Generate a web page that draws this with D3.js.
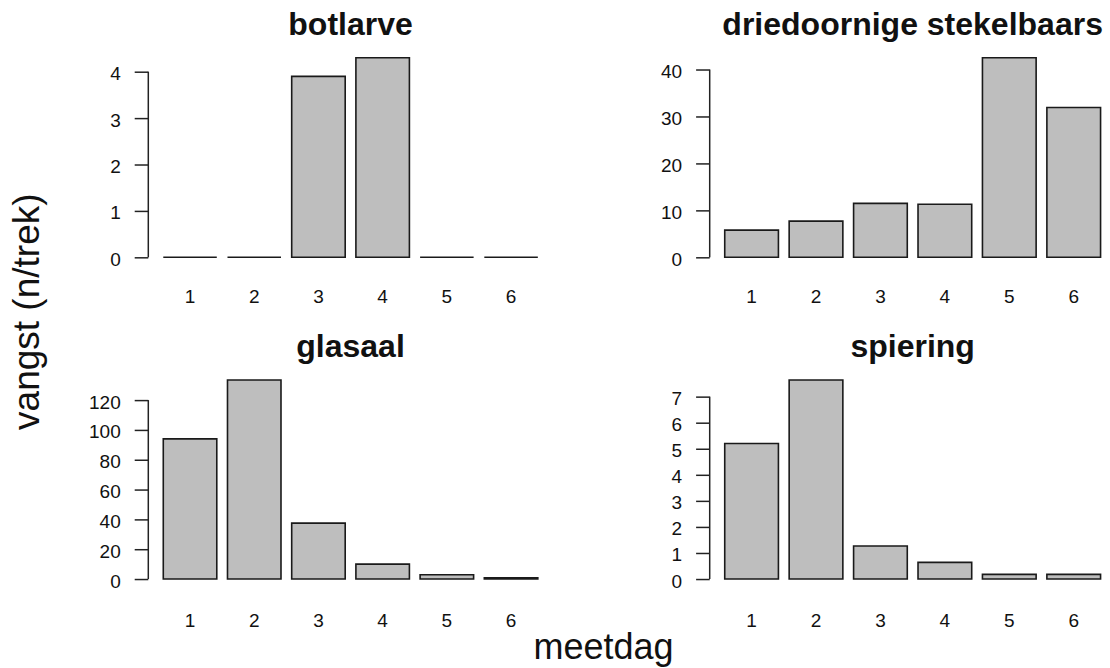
<!DOCTYPE html>
<html>
<head>
<meta charset="utf-8">
<script src="https://cdn.jsdelivr.net/npm/d3@7"></script>
<style>
  html, body { margin: 0; padding: 0; background: #fff; }
  svg { display: block; }
  text { font-family: "Liberation Sans", Arial, sans-serif; fill: #111; }
</style>
</head>
<body>
<svg id="chart" width="1110" height="668"></svg>
<script>
// ---- data ----
const days = ["1", "2", "3", "4", "5", "6"];
const titles = ["botlarve", "driedoornige stekelbaars", "glasaal", "spiering"];
const botlarve = [0, 0, 3.9, 4.3, 0, 0];
const stekelbaars = [5.8, 7.7, 11.5, 11.3, 42.5, 31.9];
const glasaal = [94, 133.5, 37.5, 10, 2.9, 0.8];
const spiering = [5.2, 7.64, 1.27, 0.64, 0.18, 0.18];
const ticksBotlarve = [0, 1, 2, 3, 4];
const ticksStekelbaars = [0, 10, 20, 30, 40];
const ticksGlasaal = [0, 20, 40, 60, 80, 100, 120];
const ticksSpiering = [0, 1, 2, 3, 4, 5, 6, 7];
const xLabel = "meetdag";
const yLabel = "vangst (n/trek)";

// ---- layout ----
const colX = [[148.3, 552.8], [709.7, 1115.6]];
const rowY = [[265.3, 49.8], [587, 372]];
const titleBase = [35, 356.7];
const xLabBase = [303, 626.5];

const panels = [
  { title: titles[0], values: botlarve, ticks: ticksBotlarve, col: 0, row: 0 },
  { title: titles[1], values: stekelbaars, ticks: ticksStekelbaars, col: 1, row: 0 },
  { title: titles[2], values: glasaal, ticks: ticksGlasaal, col: 0, row: 1 },
  { title: titles[3], values: spiering, ticks: ticksSpiering, col: 1, row: 1 }
];

const svg = d3.select("#chart");
const barW = 1, space = 0.2;

panels.forEach(p => {
  const n = p.values.length;
  const xmax = n * (barW + space);
  const pad = 0.04 * (xmax - space);
  const x = d3.scaleLinear().domain([space - pad, xmax + pad]).range(colX[p.col]);
  const vmax = d3.max(p.values);
  const y = d3.scaleLinear().domain([-0.04 * vmax, 1.04 * vmax]).range(rowY[p.row]);
  const g = svg.append("g");

  // bars as closed paths so zero-height bars still show as a line
  g.selectAll("path.bar").data(p.values).join("path")
    .attr("class", "bar")
    .attr("d", (v, i) => {
      const l = x(space + i * (barW + space)), r = x(space + i * (barW + space) + barW);
      const b = y(0), t = y(v);
      return `M${l},${b}L${r},${b}L${r},${t}L${l},${t}Z`;
    })
    .attr("fill", "#bebebe")
    .attr("stroke", "#1a1a1a")
    .attr("stroke-width", 1.6);

  // y axis
  const ax0 = colX[p.col][0];
  const axis = d3.axisLeft(y).tickValues(p.ticks).tickFormat(d3.format("d"))
    .tickSize(13.6).tickPadding(14).tickSizeOuter(0);
  const ga = g.append("g").attr("transform", `translate(${ax0},0)`).call(axis);
  ga.select(".domain").remove();
  ga.append("line")
    .attr("x1", 0).attr("x2", 0)
    .attr("y1", y(p.ticks[0])).attr("y2", y(p.ticks[p.ticks.length - 1]))
    .attr("stroke", "#222").attr("stroke-width", 1.5);
  ga.selectAll(".tick line").attr("stroke", "#222").attr("stroke-width", 1.5);
  ga.selectAll(".tick text")
    .attr("font-family", "Liberation Sans, Arial, sans-serif")
    .attr("font-size", 19).attr("fill", "#111").attr("dy", "0.42em");

  // x labels
  g.selectAll("text.xl").data(days).join("text")
    .attr("class", "xl")
    .attr("x", (d, i) => x(space + i * (barW + space) + barW / 2))
    .attr("y", xLabBase[p.row])
    .attr("text-anchor", "middle")
    .attr("font-size", 19)
    .text(d => d);

  // title
  g.append("text")
    .attr("x", (colX[p.col][0] + colX[p.col][1]) / 2)
    .attr("y", titleBase[p.row])
    .attr("text-anchor", "middle")
    .attr("font-size", 32)
    .attr("font-weight", "bold")
    .text(p.title);
});

svg.append("text")
  .attr("x", 603.5).attr("y", 659)
  .attr("text-anchor", "middle")
  .attr("font-size", 36)
  .text(xLabel);

svg.append("text")
  .attr("transform", "translate(39,311.7) rotate(-90)")
  .attr("text-anchor", "middle")
  .attr("font-size", 37)
  .text(yLabel);
</script>
</body>
</html>
